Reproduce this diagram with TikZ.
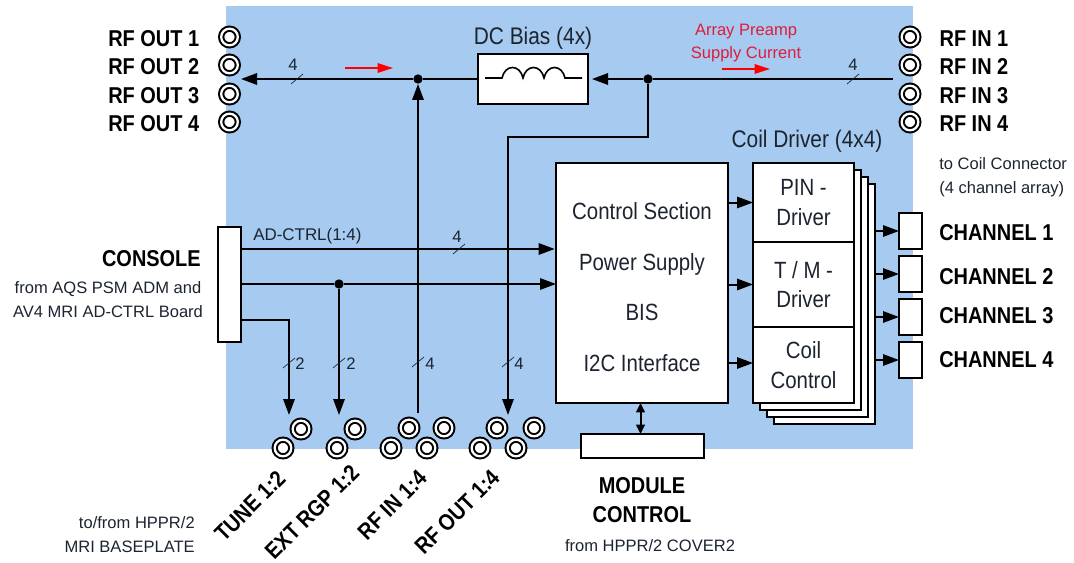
\documentclass[tikz,border=0pt]{standalone}
\usepackage{fontspec}
\setmainfont{Liberation Sans}
\newfontfamily\condfont[FakeStretch=0.87]{Liberation Sans}
\usepackage{xcolor}
\usetikzlibrary{arrows.meta,positioning}
\definecolor{mPanelBlue}{HTML}{A6CAF0}
\definecolor{mTextDark}{HTML}{1C2430}
\definecolor{mNoteRed}{HTML}{E01B3C}
\begin{document}
\begin{tikzpicture}[
        x=0.75pt, y=-0.75pt,
        box/.style={draw, line width=1.5pt, fill=white, inner sep=0pt, outer sep=0pt, align=center,
                    text=mTextDark, font=\condfont\fontsize{17.6}{22}\selectfont},
        sheet/.style={box, minimum width=75.75pt, minimum height=180pt},
        chanbox/.style={box, minimum width=17.25pt, minimum height=27pt},
        coax/.style={circle, draw, line width=1.5pt, double=white, double distance=1.7pt, fill=white,
                     inner sep=0pt, minimum size=12.5pt},
        dot/.style={circle, fill=black, inner sep=0pt, minimum size=7pt},
        arr/.style={-{Triangle[length=12pt,width=8.5pt]}, line width=1.5pt},
        wire/.style={line width=1.5pt},
        redarr/.style={-{Triangle[length=11.5pt,width=7pt]}, line width=1.4pt, red},
        slash/.style={line width=0.5pt, mTextDark},
        lbl/.style={font=\condfont\bfseries\fontsize{17.2}{22}\selectfont, inner sep=0pt, align=center},
        plain/.style={font=\condfont\fontsize{18}{18}\selectfont, text=mTextDark, inner sep=0pt},
        note/.style={font=\fontsize{12.4}{18}\selectfont, text=mTextDark, inner sep=0pt},
        count/.style={font=\fontsize{12.5}{15}\selectfont, text=mTextDark, inner sep=0pt},
    ]
        \useasboundingbox (0,0) rectangle (1074,563);
        \fill[mPanelBlue] (226,6) rectangle (913,449);

        \node[coax] (rfout1) at (229.5,37) {};
        \node[coax] (rfout2) at (229.5,65) {};
        \node[coax] (rfout3) at (229.5,94) {};
        \node[coax] (rfout4) at (229.5,122) {};
        \node[lbl, left=15.5pt of rfout1, yshift=-1.2pt] (rfoutl1) {RF OUT 1};
        \node[lbl, left=15.5pt of rfout2, yshift=-1.2pt] (rfoutl2) {RF OUT 2};
        \node[lbl, left=15.5pt of rfout3, yshift=-1.2pt] (rfoutl3) {RF OUT 3};
        \node[lbl, left=15.5pt of rfout4, yshift=-1.2pt] (rfoutl4) {RF OUT 4};

        \node[coax] (rfin1) at (910,37) {};
        \node[coax] (rfin2) at (910,65) {};
        \node[coax] (rfin3) at (910,94) {};
        \node[coax] (rfin4) at (910,122) {};
        \node[lbl, right=15pt of rfin1, yshift=-1.2pt] (rfinl1) {RF IN 1};
        \node[lbl, right=15pt of rfin2, yshift=-1.2pt] (rfinl2) {RF IN 2};
        \node[lbl, right=15pt of rfin3, yshift=-1.2pt] (rfinl3) {RF IN 3};
        \node[lbl, right=15pt of rfin4, yshift=-1.2pt] (rfinl4) {RF IN 4};

        \node[box, minimum width=82.5pt, minimum height=37.5pt] (dcbias) at (533,79) {};
        \node[plain, above=3.5pt of dcbias] (dcbiasl) {DC Bias (4x)};
        \draw[line width=1.2pt] (485,78) -- (502,78)
            .. controls (505,64) and (520,64) .. (523,78)
            .. controls (526,64) and (541,64) .. (544,78)
            .. controls (547,64) and (562,64) .. (565,78) -- (582,78);

        \node[dot] (jl) at (418,79) {};
        \node[dot] (jr) at (648,79) {};
        \coordinate (rfoutbus) at (241,79);
        \coordinate (rfinbus) at (893,79);
        \coordinate (rfinup) at (418,413);
        \coordinate (rfoutbend) at (508,137);
        \coordinate (rfoutdown) at (508,415);
        \coordinate (redla) at (345,68);
        \coordinate (redlb) at (393,68);
        \coordinate (redra) at (722,69);
        \coordinate (redrb) at (770,69);

        \draw[arr] (jl) -- (rfoutbus);
        \draw[wire] (dcbias) -- (jl);
        \draw[arr, shorten >=3pt] (jr) -- (dcbias);
        \draw[wire] (rfinbus) -- (jr);
        \draw[arr] (rfinup) -- (jl);
        \draw[arr] (jr) |- (rfoutbend) -- (rfoutdown);
        \draw[redarr] (redla) -- (redlb);
        \draw[redarr] (redra) -- (redrb);
        \node[note, text=mNoteRed, align=center, font=\fontsize{12.4}{17.25}\selectfont] (preampl) at (746,43) {Array Preamp\\Supply Current};

        \node[box, minimum width=129pt, minimum height=180pt] (ctrl) at (642,283) {};
        \node[plain, align=center, font=\condfont\fontsize{17.6}{38}\selectfont] (ctrll) at (642,287) {Control Section\\Power Supply\\BIS\\I2C Interface};

        \node[sheet] (sheetc) at (824.5,304) {};
        \node[sheet] (sheetb) at (817.5,297) {};
        \node[sheet] (sheeta) at (810.5,290) {};
        \node[box, minimum width=75.75pt, minimum height=59.25pt] (pin) at (803.5,202.5) {PIN -\\Driver};
        \node[box, minimum width=75.75pt, minimum height=63.75pt, below=0pt of pin] (tm) {T / M -\\Driver};
        \node[box, minimum width=75.75pt, minimum height=57pt, below=0pt of tm] (coil) {Coil\\Control};
        \node[plain] (driverl) at (807,141) {Coil Driver (4x4)};
        \draw[arr] (ctrl.east |- pin) -- (pin);
        \draw[arr] (ctrl.east |- tm) -- (tm);
        \draw[arr] (ctrl.east |- 0,363) -- (coil.west |- 0,363);

        \node[chanbox] (ch1) at (910.5,231) {};
        \node[chanbox, below=5.25pt of ch1] (ch2) {};
        \node[chanbox, below=5.25pt of ch2] (ch3) {};
        \node[chanbox, below=5.25pt of ch3] (ch4) {};
        \node[lbl, anchor=west] (chl1) at (939,233) {CHANNEL 1};
        \node[lbl, anchor=west] (chl2) at (939,277) {CHANNEL 2};
        \node[lbl, anchor=west] (chl3) at (939,316) {CHANNEL 3};
        \node[lbl, anchor=west] (chl4) at (939,360) {CHANNEL 4};
        \draw[arr] (sheetc.east |- ch1) -- (ch1);
        \draw[arr] (sheetc.east |- ch2) -- (ch2);
        \draw[arr] (sheetc.east |- ch3) -- (ch3);
        \draw[arr] (sheetc.east |- ch4) -- (ch4);
        \node[note, align=left, anchor=west] (coilnote) at (939,177) {to Coil Connector\\(4 channel array)};

        \node[box, minimum width=17pt, minimum height=86pt] (console) at (229.5,284.5) {};
        \node[lbl, anchor=east] (consolel) at (201,259) {CONSOLE};
        \node[note, align=center] (consolenote) at (108,300) {from AQS PSM ADM and\\AV4 MRI AD-CTRL Board};
        \node[dot] (jc) at (339,284) {};
        \coordinate (tunedown) at (289,415);
        \coordinate (extdown) at (339,415);
        \draw[arr, shorten >=1pt] (console.east |- 0,249) -- (ctrl.west |- 0,249);
        \draw[wire] (console.east |- jc) -- (jc);
        \draw[arr] (jc) -- (ctrl.west |- jc);
        \draw[arr] (jc) -- (extdown);
        \draw[arr] (console.east |- 0,320) -| (tunedown);
        \node[note, anchor=west, font=\fontsize{12.7}{15}\selectfont] (adctrl) at (253,236) {AD-CTRL(1:4)};

        \draw[slash] (297,79) ++(-6,5) -- ++(12,-10);
        \draw[slash] (853,79) ++(-6,5) -- ++(12,-10);
        \draw[slash] (459,249) ++(-6,5) -- ++(12,-10);
        \draw[slash] (289,363) ++(-6,5) -- ++(12,-10);
        \draw[slash] (339,363) ++(-6,5) -- ++(12,-10);
        \draw[slash] (418,362) ++(-6,5) -- ++(12,-10);
        \draw[slash] (508,362) ++(-6,5) -- ++(12,-10);
        \node[count] (cnta) at (293,65) {4};
        \node[count] (cntb) at (853,65) {4};
        \node[count] (cntc) at (457,237) {4};
        \node[count] (cntd) at (300,364) {2};
        \node[count] (cnte) at (351,364) {2};
        \node[count] (cntf) at (430,364) {4};
        \node[count] (cntg) at (519,364) {4};

        \node[coax] (tune1) at (283,448) {};
        \node[coax] (tune2) at (301,429) {};
        \node[coax] (ext1) at (337,448) {};
        \node[coax] (ext2) at (355,429) {};
        \node[coax] (rfina) at (391,448) {};
        \node[coax] (rfinb) at (409,428) {};
        \node[coax] (rfinc) at (427,448) {};
        \node[coax] (rfind) at (444,428) {};
        \node[coax] (rfouta) at (480,448) {};
        \node[coax] (rfoutb) at (497,428) {};
        \node[coax] (rfoutc) at (516,448) {};
        \node[coax] (rfoutd) at (534,428) {};
        \node[lbl, rotate=45] (tunel) at (250,506) {TUNE 1:2};
        \node[lbl, rotate=45] (extl) at (312,512) {EXT RGP 1:2};
        \node[lbl, rotate=45] (rfinl) at (392,505) {RF IN 1:4};
        \node[lbl, rotate=45] (rfoutl) at (457,512) {RF OUT 1:4};
        \node[note, align=right, anchor=east] (baseplate) at (195,535) {to/from HPPR/2\\MRI BASEPLATE};

        \node[box, minimum width=92pt, minimum height=18pt] (module) at (642.5,446) {};
        \draw[{Triangle[length=7pt,width=6.5pt]}-{Triangle[length=7pt,width=6.5pt]}, wire] (module.north -| 640.5,0) -- (ctrl.south -| 640.5,0);
        \node[lbl] (modulel) at (642,500) {MODULE\\CONTROL};
        \node[note] (modulenote) at (650,546) {from HPPR/2 COVER2};
    \end{tikzpicture}
\end{document}
